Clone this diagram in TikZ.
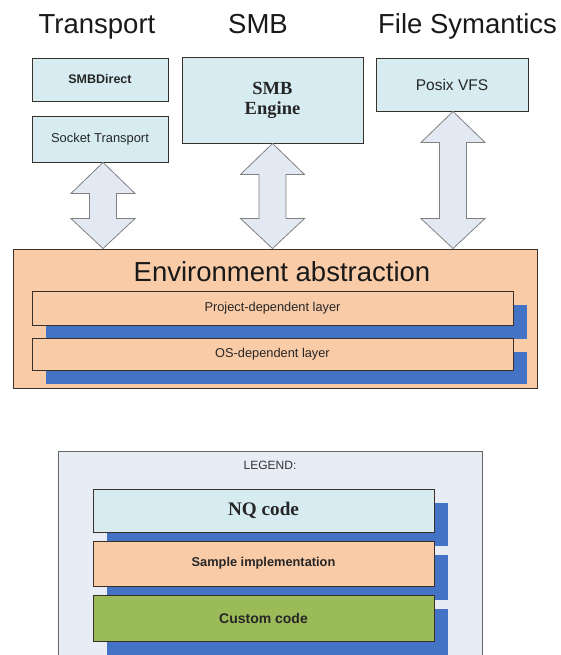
\documentclass[tikz,border=0pt]{standalone}
\usepackage{fontspec}
\setmainfont{Liberation Sans}
\newfontfamily\serifbf{Liberation Serif}
\usepackage{tikz}
\usetikzlibrary{calc, shadows}
\definecolor{nqBlue}{RGB}{214,236,241}
\definecolor{samplePeach}{RGB}{250,203,167}
\definecolor{customGreen}{RGB}{155,187,89}
\definecolor{shadeBlue}{RGB}{68,114,196}
\definecolor{legendGray}{RGB}{231,236,245}
\definecolor{arrowFill}{RGB}{226,233,243}
\definecolor{edgeDark}{RGB}{58,48,42}
% block arrow with a head at each end, from #1 down to #2
\newcommand{\updown}[2]{%
  \draw[bigarrow] let \p1=(#1), \p2=(#2) in
    (\x1,\y1) -- (\x1+32pt,\y1-31pt) -- (\x1+13.5pt,\y1-31pt) -- (\x1+13.5pt,\y2+30pt)
    -- (\x1+32pt,\y2+30pt) -- (\x1,\y2) -- (\x1-32pt,\y2+30pt) -- (\x1-13.5pt,\y2+30pt)
    -- (\x1-13.5pt,\y1-31pt) -- (\x1-32pt,\y1-31pt) -- cycle;}

\begin{document}
\begin{tikzpicture}[x=1pt, y=-1pt,
    box/.style={draw=edgeDark, line width=0.9pt, inner sep=0pt, text=black!85},
    cyanbox/.style={box, fill=nqBlue},
    layer/.style={box, drop shadow={shadow xshift=14pt, shadow yshift=-13.5pt, fill=shadeBlue, opacity=1}},
    title/.style={font=\fontsize{27.5}{30}\selectfont, anchor=base, text=black!90},
    bigarrow/.style={draw=gray, fill=arrowFill, line width=0.8pt, line join=miter}]

  \useasboundingbox (0,0) rectangle (561,655);
  \clip (0,0) rectangle (561,655);

  \node[title] (ttrans) at (97,34) {Transport};
  \node[title] (tsmb) at (258,34) {SMB};
  \node[title] (tfile) at (467.5,34) {File Symantics};

  \node[cyanbox, minimum width=136pt, minimum height=43pt, font=\fontsize{12.5}{14}\selectfont\bfseries] (smbd) at (100,79.5) {SMBDirect};
  \node[cyanbox, minimum width=136pt, minimum height=46pt, font=\fontsize{12.9}{15}\selectfont] (socket) at (100,139) {Socket Transport};
  \node[cyanbox, minimum width=181pt, minimum height=86pt, align=center, font=\fontsize{18.5}{20}\selectfont\serifbf\bfseries] (engine) at (272.5,100) {SMB\\Engine};
  \node[cyanbox, minimum width=152pt, minimum height=53pt, font=\fontsize{15.5}{17}\selectfont] (posix) at (452,84.5) {Posix VFS};

  \node[box, fill=samplePeach, minimum width=524pt, minimum height=139pt] (env) at (275,318.5) {};
  \node[title] (envtitle) at (282,281) {Environment abstraction};
  \node[layer, fill=samplePeach, minimum width=481pt, minimum height=34pt, font=\fontsize{12.8}{14}\selectfont] (project) at (272.5,308) {Project-dependent layer};
  \node[layer, fill=samplePeach, minimum width=481pt, minimum height=32pt, font=\fontsize{12.8}{14}\selectfont] (osl) at (272.5,354) {OS-dependent layer};

  \updown{[xshift=3pt]socket.south}{env.north}
  \updown{engine.south}{env.north}
  \updown{[xshift=1pt]posix.south}{env.north}

  \node[draw=gray!80!black, line width=0.8pt, fill=legendGray, minimum width=424pt, minimum height=260pt] (legend) at (270,581) {};
  \node[anchor=base, font=\fontsize{12}{14}\selectfont, text=black!80] (legtitle) at (270,469) {LEGEND:};
  \node[layer, fill=nqBlue, minimum width=341pt, minimum height=43pt, font=\fontsize{19.2}{21}\selectfont\serifbf\bfseries] (nq) at (263.5,510.5) {NQ code};
  \node[layer, fill=samplePeach, minimum width=341pt, minimum height=45pt, font=\fontsize{12.8}{14}\selectfont\bfseries] (sample) at (263.5,563.5) {Sample implementation};
  \node[layer, fill=customGreen, minimum width=341pt, minimum height=46pt, font=\fontsize{14}{16}\selectfont\bfseries] (custom) at (263.5,618) {Custom code};
\end{tikzpicture}
\end{document}
